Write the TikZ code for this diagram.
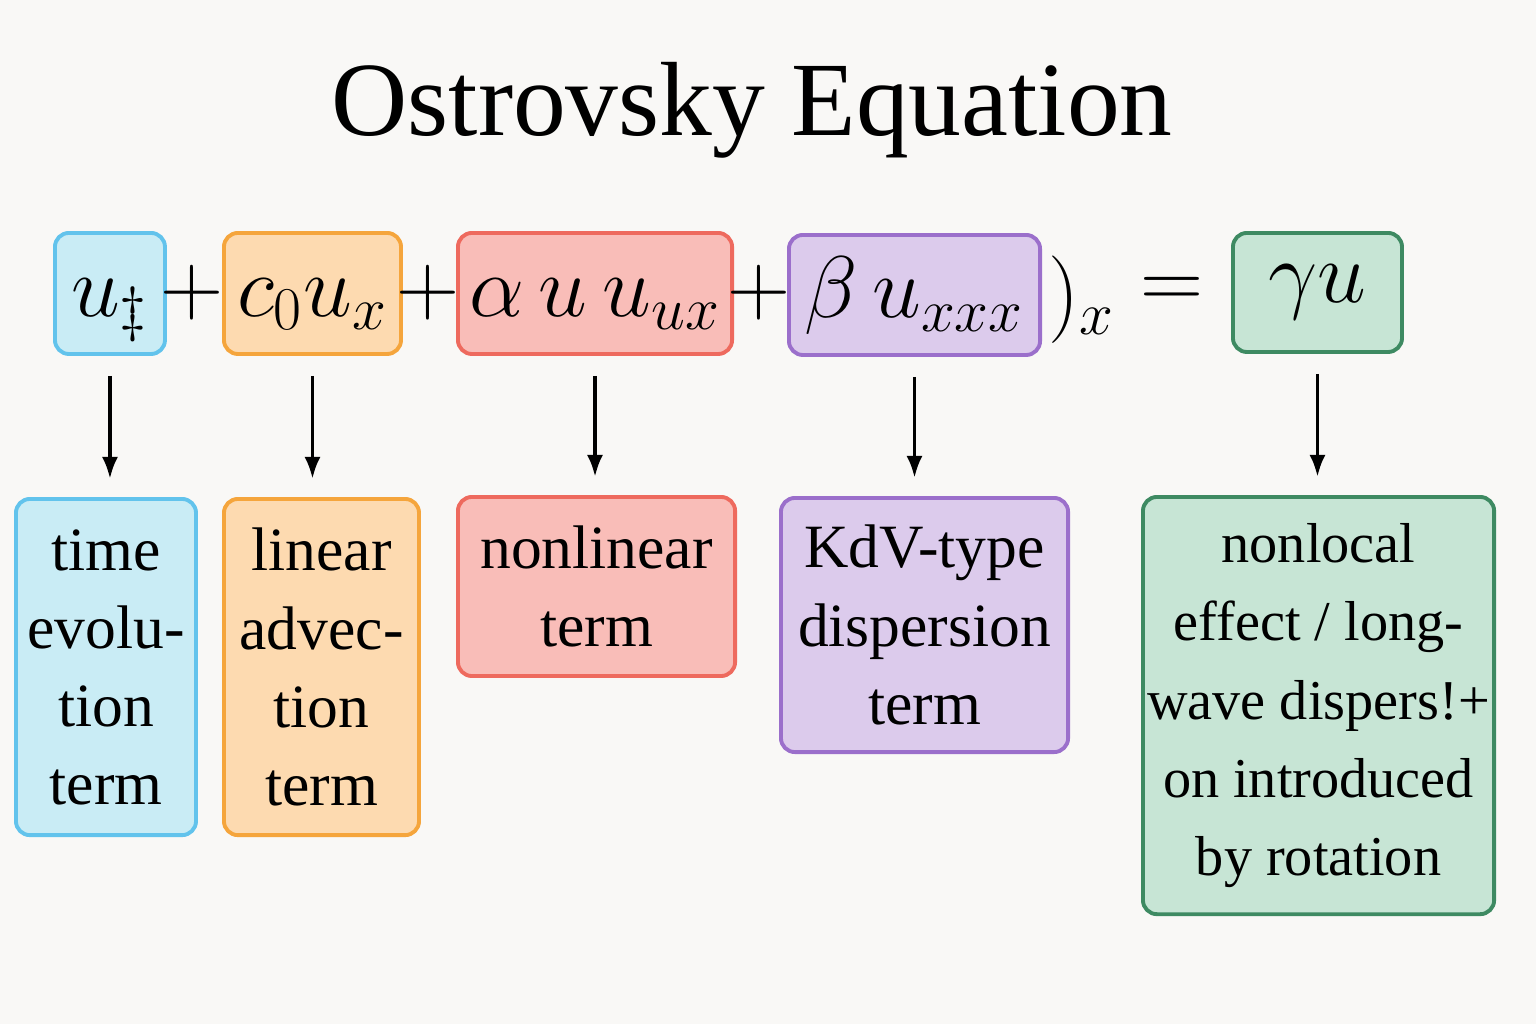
\documentclass[tikz,border=0pt]{standalone}
\usepackage{amsmath,amssymb}
\usepackage{fontspec}
\setmainfont{Liberation Serif}
\usetikzlibrary{arrows.meta}
\definecolor{paper}{HTML}{F9F8F6}
\definecolor{bluefill}{HTML}{C9ECF5}
\definecolor{blueline}{HTML}{62C3EC}
\definecolor{orangefill}{HTML}{FDDAB0}
\definecolor{orangeline}{HTML}{F5A53C}
\definecolor{redfill}{HTML}{F9BDB8}
\definecolor{redline}{HTML}{EE6A5E}
\definecolor{purplefill}{HTML}{DCCBEC}
\definecolor{purpleline}{HTML}{9B6FCB}
\definecolor{greenfill}{HTML}{C7E5D5}
\definecolor{greenline}{HTML}{3E8A62}

\begin{document}
\begin{tikzpicture}[x=0.01cm,y=-0.01cm,
    term/.style={draw,rounded corners=0.14cm,line width=1.1pt,anchor=north west,
      minimum height=1.21cm,inner sep=0pt,text height=0.76cm,text depth=0.3cm,
      font=\fontsize{25}{30}\selectfont},
    lab/.style={draw,rounded corners=0.14cm,line width=1.1pt,anchor=north west,
      align=center,inner sep=0pt,font=\fontsize{17.5}{22.2}\selectfont},
    sym/.style={inner sep=0pt,font=\fontsize{25}{30}\selectfont},
    arr/.style={-{Latex[length=0.22cm,width=0.16cm]},line width=1.1pt,
      shorten <=0.2cm,shorten >=0.18cm}]
  \useasboundingbox[fill=paper] (0,0) rectangle (1536,1024);
  \node (title) at (752,110) {\fontsize{30}{36}\selectfont Ostrovsky Equation};
  % equation row
  \node[term,fill=bluefill,draw=blueline,minimum width=1.10cm] (ut) at (53,231) {$u_{\ddagger}$};
  \node[sym] (p1) at (192,293) {$+$};
  \node[term,fill=orangefill,draw=orangeline,minimum width=1.77cm] (adv) at (222,231) {$c_0u_x$};
  \node[sym] (p2) at (428,293) {$+$};
  \node[term,fill=redfill,draw=redline,minimum width=2.74cm] (nl) at (456,231) {$\alpha\,u\,u_{ux}$};
  \node[sym] (p3) at (759,293) {$+$};
  \node[term,fill=purplefill,draw=purpleline,minimum width=2.51cm,minimum height=1.20cm] (kdv) at (787,233) {$\beta\,u_{xxx}$};
  \node[sym] (dx) at (1082,300) {$)_x$};
  \node[sym] (eq) at (1172,293) {$=$};
  \node[term,fill=greenfill,draw=greenline,minimum width=1.69cm,minimum height=1.19cm,text height=0.5cm] (rot) at (1231,231) {$\gamma u$};
  % explanations
  \node[lab,fill=bluefill,draw=blueline,minimum width=1.80cm,minimum height=3.36cm] (utlab) at (14,497)
    {time\\ evolu-\\ tion\\ term};
  \node[lab,fill=orangefill,draw=orangeline,minimum width=1.95cm,minimum height=3.36cm] (advlab) at (222,497)
    {linear\\ advec-\\ tion\\ term};
  \node[lab,fill=redfill,draw=redline,minimum width=2.77cm,minimum height=1.79cm] (nllab) at (456,495)
    {nonlinear\\ term};
  \node[lab,fill=purplefill,draw=purpleline,minimum width=2.87cm,minimum height=2.54cm] (kdvlab) at (779,496)
    {KdV-type\\ dispersion\\ term};
  \node[lab,fill=greenfill,draw=greenline,minimum width=3.51cm,minimum height=4.17cm,
    font=\fontsize{16}{22.2}\selectfont] (rotlab) at (1141,495)
    {nonlocal\\ effect / long-\\ wave dispers!+\\ on introduced\\ by rotation};
  % arrows
  \draw[arr] (ut) -- (ut |- utlab.north);
  \draw[arr] (adv) -- (adv |- advlab.north);
  \draw[arr] (nl) -- (nl |- nllab.north);
  \draw[arr] (kdv) -- (kdv |- kdvlab.north);
  \draw[arr] (rot) -- (rot |- rotlab.north);
\end{tikzpicture}
\end{document}
